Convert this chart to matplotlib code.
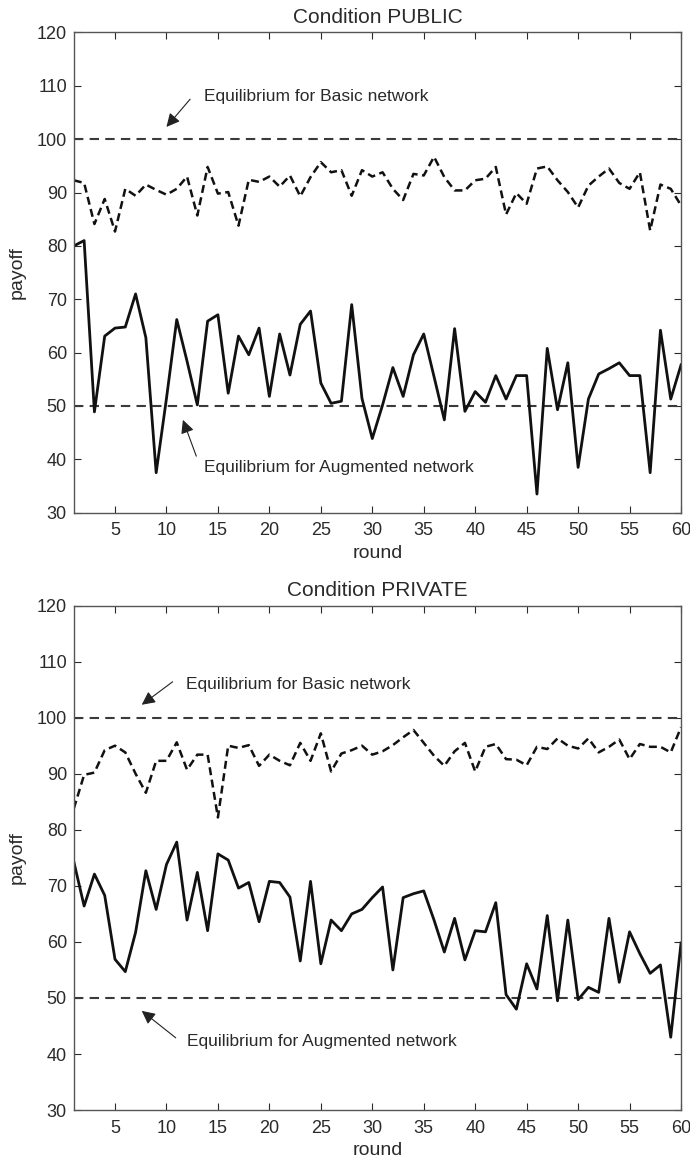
import matplotlib
matplotlib.use("Agg")
import matplotlib.pyplot as plt

plt.rcParams['font.family'] = ['Liberation Sans', 'DejaVu Sans']

rounds = list(range(1, 61))

# Condition PUBLIC
public_basic = [92.3, 91.8, 84.1, 88.8, 82.7, 90.7, 89.4, 91.5, 90.5, 89.6,
                90.7, 93.0, 85.7, 94.8, 89.8, 90.1, 83.8, 92.4, 92.0, 93.0,
                91.1, 93.2, 89.3, 92.9, 95.7, 93.8, 94.2, 89.4, 94.2, 93.0,
                93.8, 90.7, 88.6, 93.5, 93.2, 96.7, 92.9, 90.4, 90.4, 92.3,
                92.6, 94.8, 85.9, 89.9, 87.9, 94.5, 94.9, 92.3, 90.1, 87.2,
                91.3, 93.0, 94.5, 91.8, 90.7, 93.8, 82.9, 91.5, 90.7, 87.6]
public_aug = [80.0, 81.0, 48.9, 63.1, 64.6, 64.8, 71.0, 62.8, 37.5, 51.4,
              66.2, 58.4, 50.2, 65.9, 67.1, 52.4, 63.1, 59.6, 64.6, 51.8,
              63.5, 55.8, 65.3, 67.8, 54.3, 50.5, 50.9, 69.0, 51.4, 43.9,
              50.2, 57.2, 51.8, 59.6, 63.5, 55.5, 47.4, 64.5, 49.0, 52.7,
              50.7, 55.7, 51.3, 55.7, 55.7, 33.5, 60.8, 49.3, 58.1, 38.5,
              51.3, 56.0, 57.0, 58.1, 55.7, 55.7, 37.5, 64.2, 51.3, 57.7]

# Condition PRIVATE
private_basic = [83.8, 89.8, 90.2, 94.2, 95.0, 93.8, 90.0, 86.6, 92.3, 92.3,
                 95.6, 90.7, 93.4, 93.4, 82.2, 95.0, 94.6, 95.1, 91.4, 93.4,
                 92.3, 91.5, 95.5, 92.3, 97.2, 90.4, 93.6, 94.2, 95.0, 93.4,
                 94.0, 95.1, 96.5, 97.8, 95.5, 93.2, 91.4, 94.0, 95.5, 90.4,
                 94.8, 95.3, 92.6, 92.5, 91.5, 94.8, 94.4, 96.3, 95.0, 94.5,
                 96.3, 93.8, 94.8, 96.1, 92.6, 95.3, 94.8, 94.8, 93.8, 98.3]
private_aug = [74.3, 66.4, 72.1, 68.3, 56.9, 54.7, 61.7, 72.7, 65.8, 73.8,
               77.8, 63.9, 72.4, 62.0, 75.7, 74.6, 69.6, 70.6, 63.6, 70.8,
               70.6, 68.0, 56.6, 70.8, 56.1, 63.9, 62.0, 65.0, 65.8, 67.9,
               69.8, 55.0, 67.9, 68.6, 69.1, 63.9, 58.2, 64.2, 56.8, 62.0,
               61.8, 67.0, 50.6, 48.0, 56.1, 51.6, 64.7, 49.5, 63.9, 49.7,
               51.9, 51.0, 64.2, 52.8, 61.8, 57.9, 54.4, 55.9, 43.0, 59.8]

eq_basic = 100
eq_aug = 50

titles = ['Condition PUBLIC', 'Condition PRIVATE']
basic_label = 'Equilibrium for Basic network'
aug_label = 'Equilibrium for Augmented network'

fig = plt.figure(figsize=(6.9, 11.6), dpi=100)
ax_top = fig.add_axes([0.107, 0.558, 0.880, 0.414])
ax_bot = fig.add_axes([0.107, 0.043, 0.880, 0.435])

# (text pos, arrow tail, arrow head) for basic / augmented, per panel
annots = [
    [((13.6, 108.0), (12.3, 107.5), (10.0, 102.3)),
     ((13.6, 38.5), (12.9, 40.6), (11.6, 47.4))],
    [((11.9, 106.0), (10.6, 106.4), (7.6, 102.3)),
     ((12.0, 42.3), (10.9, 42.9), (7.6, 47.7))],
]

for ax, title, basic, aug, ann in zip([ax_top, ax_bot], titles,
                                      [public_basic, private_basic],
                                      [public_aug, private_aug], annots):
    ax.axhline(eq_basic, color='#3a3a3a', ls=(0, (4.5, 3)), lw=1.5)
    ax.axhline(eq_aug, color='#3a3a3a', ls=(0, (4.5, 3)), lw=1.5)
    ax.plot(rounds, basic, color='#111111', ls=(0, (3.2, 1.8)), lw=1.8)
    ax.plot(rounds, aug, color='#111111', ls='-', lw=2.0)

    for label, (txt, tail, head) in zip([basic_label, aug_label], ann):
        ax.text(txt[0], txt[1], label, fontsize=12.5, color='#2a2a2a',
                va='center', ha='left')
        ax.annotate('', xy=head, xytext=tail,
                    arrowprops=dict(arrowstyle='-|>', color='#222222', lw=0.8,
                                    mutation_scale=20, shrinkA=0, shrinkB=0))

    ax.set_xlim(1, 60)
    ax.set_ylim(30, 120)
    ax.set_xticks(range(5, 61, 5))
    ax.set_yticks(range(30, 121, 10))
    ax.tick_params(direction='in', top=True, right=True, labelsize=13,
                   colors='#2a2a2a', length=5)
    ax.tick_params(axis='x', pad=7)
    ax.tick_params(axis='y', pad=5)
    for s in ax.spines.values():
        s.set_color('#555555')
        s.set_linewidth(1.0)
    ax.set_title(title, fontsize=15, color='#2a2a2a', pad=7)
    ax.set_xlabel('round', fontsize=14, color='#2a2a2a', labelpad=4)
    ax.set_ylabel('payoff', fontsize=14, color='#2a2a2a', labelpad=8)

fig.savefig('out.png', dpi=100)
